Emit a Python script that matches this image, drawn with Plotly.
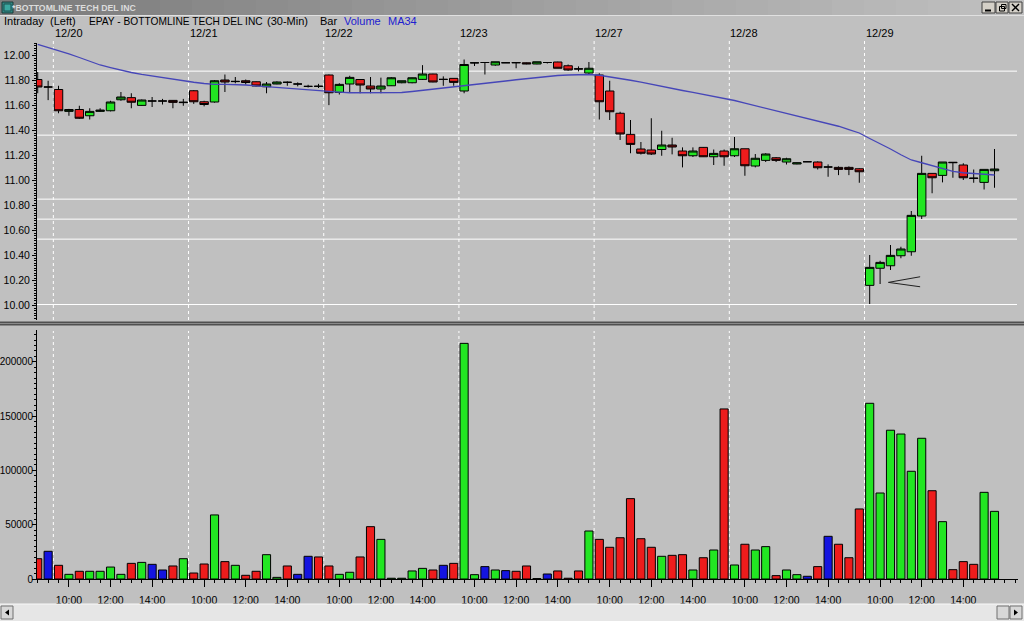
import plotly.graph_objects as go

W, H = 1024, 621

# ---------------- data ----------------
days = ["12/20", "12/21", "12/22", "12/23", "12/27", "12/28", "12/29"]
bars_per_day = 13
hour_labels = ["10:00", "12:00", "14:00"]
hour_offsets = [1, 5, 9]          # bar slot within a day (9:30 = 0)

bar_index = list(range(-2, 91))   # two bars of 12/19, then 7 full days

opens = [11.81, 11.75, 11.73, 11.555, 11.57, 11.52, 11.555, 11.56, 11.648, 11.665,
         11.603, 11.638, 11.638, 11.643, 11.625, 11.72, 11.632, 11.63, 11.806, 11.793,
         11.80, 11.792, 11.752, 11.774, 11.789, 11.774, 11.755, 11.757, 11.846, 11.707,
         11.774, 11.81, 11.758, 11.734, 11.76, 11.784, 11.784, 11.811, 11.854, 11.811,
         11.819, 11.718, 11.942, 11.946, 11.926, 11.944, 11.946, 11.944, 11.934, 11.946,
         11.95, 11.92, 11.896, 11.862, 11.846, 11.718, 11.54, 11.371, 11.254, 11.246,
         11.25, 11.286, 11.238, 11.20, 11.267, 11.192, 11.238, 11.20, 11.256, 11.118,
         11.163, 11.184, 11.15, 11.134, 11.152, 11.15, 11.11, 11.107, 11.107, 11.096,
         10.163, 10.30, 10.32, 10.40, 10.432, 10.718, 11.059, 11.043, 11.148, 11.126,
         11.022, 10.987, 11.08]
highs = [11.87, 11.80, 11.76, 11.575, 11.60, 11.58, 11.58, 11.64, 11.71, 11.70,
         11.65, 11.67, 11.655, 11.645, 11.655, 11.725, 11.64, 11.805, 11.85, 11.83,
         11.81, 11.795, 11.79, 11.795, 11.795, 11.787, 11.768, 11.775, 11.85, 11.78,
         11.84, 11.81, 11.83, 11.825, 11.83, 11.80, 11.826, 11.925, 11.856, 11.835,
         11.82, 11.97, 11.946, 11.948, 11.952, 11.946, 11.946, 11.946, 11.952, 11.948,
         11.952, 11.93, 11.915, 11.95, 11.86, 11.80, 11.552, 11.486, 11.31, 11.50,
         11.40, 11.344, 11.267, 11.267, 11.27, 11.25, 11.25, 11.35, 11.256, 11.214,
         11.22, 11.19, 11.184, 11.146, 11.155, 11.155, 11.131, 11.115, 11.115, 11.10,
         10.406, 10.36, 10.486, 10.472, 10.758, 11.20, 11.06, 11.15, 11.148, 11.14,
         11.09, 11.091, 11.254]
lows = [11.70, 11.645, 11.54, 11.52, 11.495, 11.49, 11.55, 11.555, 11.64, 11.58,
        11.60, 11.59, 11.61, 11.58, 11.60, 11.615, 11.595, 11.625, 11.71, 11.78,
        11.77, 11.755, 11.70, 11.772, 11.76, 11.755, 11.746, 11.742, 11.605, 11.69,
        11.71, 11.70, 11.70, 11.70, 11.758, 11.78, 11.78, 11.806, 11.788, 11.76,
        11.76, 11.70, 11.918, 11.85, 11.92, 11.942, 11.90, 11.932, 11.932, 11.938,
        11.90, 11.88, 11.875, 11.85, 11.49, 11.486, 11.326, 11.22, 11.21, 11.206,
        11.20, 11.211, 11.107, 11.19, 11.19, 11.126, 11.12, 11.19, 11.04, 11.107,
        11.15, 11.15, 11.13, 11.132, 11.15, 11.09, 11.032, 11.045, 11.045, 10.984,
        10.014, 10.174, 10.286, 10.38, 10.40, 10.694, 10.90, 10.987, 11.024, 11.006,
        10.984, 10.93, 10.944]
closes = [11.75, 11.75, 11.56, 11.57, 11.50, 11.555, 11.565, 11.63, 11.67, 11.628,
          11.646, 11.638, 11.638, 11.627, 11.628, 11.632, 11.61, 11.80, 11.79, 11.795,
          11.786, 11.758, 11.774, 11.79, 11.787, 11.774, 11.755, 11.755, 11.704, 11.771,
          11.827, 11.766, 11.734, 11.758, 11.824, 11.80, 11.824, 11.854, 11.79, 11.811,
          11.787, 11.93, 11.944, 11.946, 11.952, 11.944, 11.944, 11.935, 11.952, 11.946,
          11.90, 11.886, 11.894, 11.90, 11.632, 11.552, 11.374, 11.291, 11.22, 11.214,
          11.286, 11.27, 11.20, 11.238, 11.192, 11.219, 11.192, 11.256, 11.12, 11.18,
          11.214, 11.163, 11.176, 11.144, 11.152, 11.104, 11.11, 11.091, 11.091, 11.072,
          10.307, 10.347, 10.403, 10.454, 10.723, 11.059, 11.024, 11.15, 11.145, 11.024,
          11.019, 11.091, 11.094]
volume = [18700, 25500, 12600, 4300, 7100, 7100, 7100, 11000, 4300, 14400,
          15300, 13500, 8300, 12000, 18700, 5500, 13800, 59000, 16000, 12600,
          3400, 7100, 22400, 1500, 12000, 4300, 20900, 20300, 12000, 4300,
          6200, 20300, 48200, 36500, 700, 700, 7400, 9800, 8300, 12600,
          14400, 217000, 4000, 11400, 8300, 7700, 7100, 12000, 400, 4600,
          7400, 700, 7400, 44200, 36500, 29200, 38000, 74000, 37100, 29200,
          20900, 21800, 22400, 8300, 19600, 26700, 156600, 12900, 32000, 26700,
          29800, 3100, 8300, 4000, 2500, 11400, 39300, 32000, 19600, 64500,
          161800, 79200, 137000, 133500, 99200, 129600, 81300, 52800, 8600, 16000,
          13500, 79800, 62300]
ma34 = [12.091, 12.067, 12.043, 12.015, 11.986, 11.956, 11.926, 11.905, 11.883, 11.866,
        11.851, 11.838, 11.824, 11.811, 11.799, 11.788, 11.778, 11.771, 11.771, 11.771,
        11.766, 11.759, 11.752, 11.746, 11.738, 11.732, 11.726, 11.721, 11.714, 11.709,
        11.704, 11.704, 11.704, 11.704, 11.704, 11.706, 11.714, 11.723, 11.732, 11.740,
        11.748, 11.759, 11.769, 11.778, 11.788, 11.798, 11.808, 11.818, 11.827, 11.838,
        11.842, 11.846, 11.848, 11.850, 11.844, 11.832, 11.819, 11.804, 11.789, 11.771,
        11.753, 11.738, 11.722, 11.707, 11.691, 11.676, 11.660, 11.642, 11.621, 11.601,
        11.580, 11.559, 11.540, 11.520, 11.501, 11.482, 11.462, 11.436, 11.409, 11.382,
        11.338, 11.299, 11.254, 11.208, 11.166, 11.144, 11.119, 11.096, 11.075, 11.064,
        11.058, 11.051, 11.046]

levels = [11.877, 11.365, 10.853, 10.693, 10.533, 10.01]   # horizontal white lines
price_ticks = [10.0, 10.2, 10.4, 10.6, 10.8, 11.0, 11.2, 11.4, 11.6, 11.8, 12.0]
vol_ticks = [0, 50000, 100000, 150000, 200000]
# "<" marker drawn near the 12/29 low: tip and the two ends (bar units, price)
marker_tip = (79.8, 10.187)
marker_ends = [(82.85, 10.232), (82.85, 10.152)]

# ---------------- styles ----------------
BG = "#c0c0c0"
GREEN = "#22e622"
RED = "#ee1c1c"
BLUE = "#1414e0"
FONT = "Liberation Sans, Arial, sans-serif"


def yp(py):
    return 1 - py / H


def xp(px):
    return px / W


X_DOM = [xp(37), xp(1018)]
X_RANGE = [-2.07, 92.26]
PRICE_DOM = [yp(320), yp(43)]
PRICE_RANGE = [9.886, 12.102]
VOL_DOM = [yp(579), yp(330)]
VOL_RANGE = [0, 229300]

vol_colors = [GREEN if c > o else (RED if c < o else BLUE) for o, c in zip(opens, closes)]

fig = go.Figure()
fig.add_trace(go.Candlestick(
    x=bar_index, open=opens, high=highs, low=lows, close=closes,
    increasing=dict(fillcolor=GREEN, line=dict(color="black", width=1)),
    decreasing=dict(fillcolor=RED, line=dict(color="black", width=1)),
    whiskerwidth=0, xaxis="x", yaxis="y", hoverinfo="skip", showlegend=False))
fig.add_trace(go.Scatter(
    x=bar_index, y=ma34, mode="lines", line=dict(color="#4646b8", width=1.3),
    xaxis="x", yaxis="y", hoverinfo="skip", showlegend=False))
fig.add_trace(go.Bar(
    x=bar_index, y=volume, width=0.78,
    marker=dict(color=vol_colors, line=dict(color="black", width=1)),
    xaxis="x2", yaxis="y2", hoverinfo="skip", showlegend=False))

shapes = []
# day separators (dashed white)
for d in range(len(days)):
    xs = d * bars_per_day - 0.5
    for (top, bot) in [(41, 320), (331, 579)]:
        shapes.append(dict(type="line", xref="x", yref="paper", x0=xs, x1=xs,
                           y0=yp(bot), y1=yp(top), layer="below",
                           line=dict(color="white", width=1, dash="3px,3px")))
# horizontal level lines
for lv in levels:
    shapes.append(dict(type="line", xref="paper", yref="y", x0=xp(37), x1=xp(1017),
                       y0=lv, y1=lv, layer="below", line=dict(color="white", width=1)))
# "<" marker
for ex, ey in marker_ends:
    shapes.append(dict(type="line", xref="x", yref="y", x0=marker_tip[0], y0=marker_tip[1],
                       x1=ex, y1=ey, line=dict(color="#202020", width=1)))

# window chrome: title bar gradient
n_strip = 32
for i in range(n_strip):
    t = i / (n_strip - 1)
    v = int(0x7c + (0xc0 - 0x7c) * t)
    shapes.append(dict(type="rect", xref="paper", yref="paper",
                       x0=i / n_strip, x1=(i + 1) / n_strip + 0.001, y0=yp(15), y1=1,
                       fillcolor=f"rgb({v},{v},{v})", line=dict(width=0), layer="above"))
shapes.append(dict(type="line", xref="paper", yref="paper", x0=0, x1=1, y0=yp(15.5), y1=yp(15.5),
                   line=dict(color="#e0e0e0", width=1)))
# icon
shapes.append(dict(type="rect", xref="paper", yref="paper", x0=xp(2), x1=xp(13), y0=yp(13), y1=yp(2),
                   fillcolor="#2e8a84", line=dict(color="#1a3a3a", width=1)))
shapes.append(dict(type="rect", xref="paper", yref="paper", x0=xp(4), x1=xp(11), y0=yp(11), y1=yp(4),
                   fillcolor="#3aa8a0", line=dict(color="#205050", width=1)))
# title bar buttons
for bx0, bx1 in [(982, 995), (996, 1008), (1009, 1022)]:
    shapes.append(dict(type="rect", xref="paper", yref="paper", x0=xp(bx0), x1=xp(bx1),
                       y0=yp(13), y1=yp(2), fillcolor="#d4d0c8",
                       line=dict(color="#404040", width=1)))
shapes.append(dict(type="rect", xref="paper", yref="paper", x0=xp(999.5), x1=xp(1004.5),
                   y0=yp(11), y1=yp(6.5), line=dict(color="black", width=1)))
shapes.append(dict(type="rect", xref="paper", yref="paper", x0=xp(1001.5), x1=xp(1006),
                   y0=yp(8.5), y1=yp(4.5), line=dict(color="black", width=1)))
shapes.append(dict(type="line", xref="paper", yref="paper", x0=xp(985), x1=xp(991),
                   y0=yp(10.5), y1=yp(10.5), line=dict(color="black", width=2)))
shapes.append(dict(type="line", xref="paper", yref="paper", x0=xp(1012), x1=xp(1019),
                   y0=yp(4), y1=yp(11), line=dict(color="black", width=1.5)))
shapes.append(dict(type="line", xref="paper", yref="paper", x0=xp(1012), x1=xp(1019),
                   y0=yp(11), y1=yp(4), line=dict(color="black", width=1.5)))
# panel splitter
shapes.append(dict(type="rect", xref="paper", yref="paper", x0=0, x1=1, y0=yp(325.5), y1=yp(321.5),
                   fillcolor="#505050", line=dict(width=0)))
shapes.append(dict(type="line", xref="paper", yref="paper", x0=0, x1=1, y0=yp(323.5), y1=yp(323.5),
                   line=dict(color="#8a8a8a", width=1)))
# scrollbar
shapes.append(dict(type="rect", xref="paper", yref="paper", x0=0, x1=1, y0=0, y1=yp(604),
                   fillcolor="#e6e6e6", line=dict(width=0)))
shapes.append(dict(type="line", xref="paper", yref="paper", x0=0, x1=1, y0=yp(604), y1=yp(604),
                   line=dict(color="#f8f8f8", width=1)))
for bx0, bx1 in [(1, 13), (997, 1009), (1010, 1022)]:
    shapes.append(dict(type="rect", xref="paper", yref="paper", x0=xp(bx0), x1=xp(bx1),
                       y0=yp(619), y1=yp(606), fillcolor="#d8d8d8",
                       line=dict(color="#707070", width=1)))
shapes.append(dict(type="path", xref="paper", yref="paper",
                   path=f"M {xp(5)} {yp(612.5)} L {xp(9)} {yp(609.5)} L {xp(9)} {yp(615.5)} Z",
                   fillcolor="black", line=dict(width=0)))
shapes.append(dict(type="path", xref="paper", yref="paper",
                   path=f"M {xp(1018)} {yp(612.5)} L {xp(1014)} {yp(609.5)} L {xp(1014)} {yp(615.5)} Z",
                   fillcolor="black", line=dict(width=0)))

annotations = []
TXT_SHIFT = 5.5   # annotation boxes add padding on the left


def label(text, x, y, color="black", size=11, bold=False, xref="paper"):
    annotations.append(dict(
        text=f"<b>{text}</b>" if bold else text,
        x=x if xref != "paper" else xp(x - TXT_SHIFT), y=yp(y),
        xshift=-TXT_SHIFT if xref != "paper" else 0,
        xref=xref, yref="paper", xanchor="left", yanchor="middle", showarrow=False,
        font=dict(family=FONT, size=size, color=color)))


label("*BOTTOMLINE TECH DEL INC", 15, 7.5, color="#dcdcdc", size=8.7, bold=True)
label("Intraday", 7, 21)
label("(Left)", 53, 21)
label("EPAY - BOTTOMLINE TECH DEL INC", 92, 21, size=10.2)
label("(30-Min)", 270, 21, size=11)
label("Bar", 323, 21)
label("Volume", 347, 21, color="#2020d0")
label("MA34", 391, 21, color="#2020d0")
for d, name in enumerate(days):
    label(name, d * bars_per_day - 0.05, 33, xref="x")

tickvals = []
ticktext = []
for d in range(len(days)):
    for off, lab in zip(hour_offsets, hour_labels):
        tickvals.append(d * bars_per_day + off)
        ticktext.append(lab)

axis_font = dict(family=FONT, size=10.5, color="black")
vol_font = dict(family=FONT, size=10, color="black")
fig.update_layout(
    width=W, height=H, margin=dict(l=0, r=0, t=0, b=0, pad=0, autoexpand=False), autosize=False,
    paper_bgcolor=BG, plot_bgcolor=BG, showlegend=False, boxgap=0.1, boxgroupgap=0.1,
    font=dict(family=FONT, size=11, color="black"),
    xaxis=dict(domain=X_DOM, range=X_RANGE, anchor="y", showticklabels=False, showgrid=False,
               zeroline=False, showline=False, ticks="", rangeslider=dict(visible=False),
               fixedrange=True),
    yaxis=dict(domain=PRICE_DOM, range=PRICE_RANGE, anchor="x", showgrid=False, zeroline=False,
               showline=True, linecolor="black", linewidth=1, ticks="outside", ticklen=4,
               tickcolor="black", tickmode="array", tickvals=price_ticks, tickformat=".2f",
               tickfont=axis_font, minor=dict(dtick=0.02, tick0=10, ticks="outside", ticklen=2,
                                              tickcolor="black", showgrid=False)),
    xaxis2=dict(domain=X_DOM, range=X_RANGE, anchor="y2", showgrid=False, zeroline=False,
                showline=True, linecolor="black", linewidth=1, ticks="outside", ticklen=7,
                tickcolor="black", tickmode="array", tickvals=tickvals, ticktext=ticktext,
                tickfont=axis_font, ticklabelstandoff=4,
                minor=dict(dtick=1, tick0=0, ticks="outside", ticklen=3, tickcolor="black",
                           showgrid=False)),
    yaxis2=dict(domain=VOL_DOM, range=VOL_RANGE, anchor="x2", showgrid=False, zeroline=False,
                showline=True, linecolor="black", linewidth=1, ticks="outside", ticklen=4,
                tickcolor="black", tickmode="array", tickvals=vol_ticks, tickformat="d",
                tickfont=vol_font, ticklabelstandoff=-3,
                minor=dict(dtick=5000, tick0=0, ticks="outside", ticklen=2,
                           tickcolor="black", showgrid=False)),
    shapes=shapes, annotations=annotations,
)

fig.write_html(
    "out.html",
    config={"displayModeBar": False, "staticPlot": True},
    post_script="document.body.style.margin='0';document.body.style.overflow='hidden';"
                "document.documentElement.style.overflow='hidden';",
)
